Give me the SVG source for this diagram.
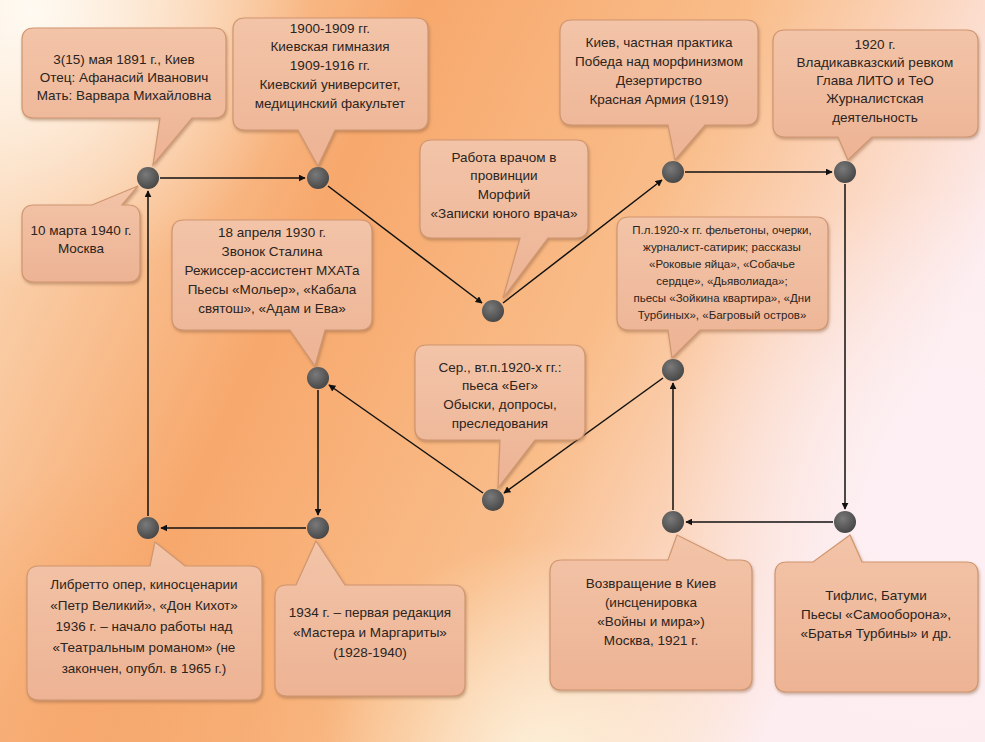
<svg xmlns="http://www.w3.org/2000/svg" width="985" height="742" viewBox="0 0 985 742">
<defs>
<linearGradient id="bg" x1="0" y1="0" x2="1" y2="0.35">
<stop offset="0" stop-color="#fbe0c4"/>
<stop offset="0.38" stop-color="#f7a86c"/>
<stop offset="0.68" stop-color="#f9bd8a"/>
<stop offset="1" stop-color="#fdedf0"/>
</linearGradient>
<radialGradient id="tl" cx="30" cy="10" r="280" gradientUnits="userSpaceOnUse">
<stop offset="0" stop-color="#fffaf2" stop-opacity="1"/>
<stop offset="1" stop-color="#fffaf2" stop-opacity="0"/>
</radialGradient>
<radialGradient id="rt" cx="940" cy="470" r="280" gradientUnits="userSpaceOnUse">
<stop offset="0" stop-color="#fdf0f4" stop-opacity="0.95"/>
<stop offset="1" stop-color="#fdf0f4" stop-opacity="0"/>
</radialGradient>
<radialGradient id="bm" cx="540" cy="760" r="220" gradientUnits="userSpaceOnUse">
<stop offset="0" stop-color="#fdf3dc" stop-opacity="0.9"/>
<stop offset="1" stop-color="#fdf3dc" stop-opacity="0"/>
</radialGradient>
<radialGradient id="bl" cx="120" cy="720" r="260" gradientUnits="userSpaceOnUse">
<stop offset="0" stop-color="#f6a96e" stop-opacity="0.8"/>
<stop offset="1" stop-color="#f6a96e" stop-opacity="0"/>
</radialGradient>
<linearGradient id="cf" x1="0" y1="0" x2="0" y2="1">
<stop offset="0" stop-color="#f3c4a8"/>
<stop offset="1" stop-color="#edb394"/>
</linearGradient>
<radialGradient id="dot" cx="0.4" cy="0.35" r="0.7">
<stop offset="0" stop-color="#7a7a7a"/>
<stop offset="1" stop-color="#444"/>
</radialGradient>
<filter id="sh" x="-10%" y="-10%" width="125%" height="130%">
<feDropShadow dx="1" dy="2" stdDeviation="1.5" flood-color="#8a5a3a" flood-opacity="0.45"/>
</filter>
<marker id="ar" viewBox="0 0 10 10" refX="9" refY="5" markerWidth="7" markerHeight="7" orient="auto" markerUnits="userSpaceOnUse">
<path d="M0,0 L10,5 L0,10 z" fill="#111"/>
</marker>
<style>
.co{fill:url(#cf);stroke:#cf9670;stroke-width:1.2;filter:url(#sh)}
.t{font-family:"Liberation Sans",Arial,sans-serif;font-size:13.5px;fill:#2b2420;text-anchor:middle}
.s{font-size:11.5px}
.d{fill:url(#dot)}
.c{stroke:#111;stroke-width:1.5;fill:none;marker-end:url(#ar)}
</style>
</defs>
<rect width="985" height="742" fill="url(#bg)"/>
<rect width="985" height="742" fill="url(#bl)"/>
<rect width="985" height="742" fill="url(#tl)"/>
<rect width="985" height="742" fill="url(#rt)"/>
<rect width="985" height="742" fill="url(#bm)"/>

<g id="connectors">
<line class="c" x1="160" y1="178" x2="305" y2="178"/>
<line class="c" x1="328" y1="186" x2="482" y2="303"/>
<line class="c" x1="503" y1="303" x2="662" y2="180"/>
<line class="c" x1="685" y1="172" x2="832" y2="172"/>
<line class="c" x1="845" y1="184" x2="845" y2="509"/>
<line class="c" x1="833" y1="522" x2="686" y2="522"/>
<line class="c" x1="673" y1="510" x2="673" y2="383"/>
<line class="c" x1="663" y1="378" x2="504" y2="493"/>
<line class="c" x1="483" y1="493" x2="329" y2="385"/>
<line class="c" x1="318" y1="390" x2="318" y2="515"/>
<line class="c" x1="306" y1="528" x2="161" y2="528"/>
<line class="c" x1="148" y1="516" x2="148" y2="191"/>
</g>

<g id="n1">
<path class="co" d="M34,28 H214 Q226,28 226,40 V106 Q226,118 214,118 H192 L153,165 L160,118 H34 Q22,118 22,106 V40 Q22,28 34,28 Z"/>
<text class="t" x="124" y="64">3(15) мая 1891 г., Киев</text>
<text class="t" x="124" y="82">Отец: Афанасий  Иванович</text>
<text class="t" x="124" y="100">Мать: Варвара Михайловна</text>
<circle class="d" cx="148" cy="178" r="11"/>
</g>
<g id="n2">
<path class="co" d="M245,18 H416 Q428,18 428,30 V118 Q428,130 416,130 H335 L318,166 L298,130 H245 Q233,130 233,118 V30 Q233,18 245,18 Z"/>
<text class="t" x="330" y="33">1900-1909 гг.</text>
<text class="t" x="330" y="51">Киевская гимназия</text>
<text class="t" x="330" y="70">1909-1916 гг.</text>
<text class="t" x="330" y="89">Киевский университет,</text>
<text class="t" x="330" y="108">медицинский факультет</text>
<circle class="d" cx="318" cy="178" r="11"/>
</g>
<g id="n3">
<path class="co" d="M432,140 H576 Q588,140 588,152 V226 Q588,238 576,238 H548 L503,298 L520,238 H432 Q420,238 420,226 V152 Q420,140 432,140 Z"/>
<text class="t" x="504" y="162">Работа врачом в</text>
<text class="t" x="504" y="180">провинции</text>
<text class="t" x="504" y="199">Морфий</text>
<text class="t" x="504" y="218">«Записки юного врача»</text>
<circle class="d" cx="493" cy="311" r="11"/>
</g>
<g id="n4">
<path class="co" d="M572,20 H746 Q758,20 758,32 V113 Q758,125 746,125 H705 L675,160 L668,125 H572 Q560,125 560,113 V32 Q560,20 572,20 Z"/>
<text class="t" x="659" y="47">Киев, частная практика</text>
<text class="t" x="659" y="66">Победа над морфинизмом</text>
<text class="t" x="659" y="85">Дезертирство</text>
<text class="t" x="659" y="104">Красная Армия (1919)</text>
<circle class="d" cx="673" cy="172" r="11"/>
</g>
<g id="n5">
<path class="co" d="M785,30 H966 Q978,30 978,42 V125 Q978,137 966,137 H872 L848,160 L838,137 H785 Q773,137 773,125 V42 Q773,30 785,30 Z"/>
<text class="t" x="875" y="49">1920 г.</text>
<text class="t" x="875" y="67">Владикавказский ревком</text>
<text class="t" x="875" y="85">Глава ЛИТО и ТеО</text>
<text class="t" x="875" y="103">Журналистская</text>
<text class="t" x="875" y="122">деятельность</text>
<circle class="d" cx="845" cy="172" r="11"/>
</g>
<g id="n6">
<path class="co" d="M34,205 H92 L138,186 L122,205 H128 Q140,205 140,217 V270 Q140,282 128,282 H34 Q22,282 22,270 V217 Q22,205 34,205 Z"/>
<text class="t" x="81" y="235">10 марта 1940 г.</text>
<text class="t" x="81" y="253">Москва</text>
</g>
<g id="n7">
<path class="co" d="M184,220 H360 Q372,220 372,232 V318 Q372,330 360,330 H325 L315,366 L290,330 H184 Q172,330 172,318 V232 Q172,220 184,220 Z"/>
<text class="t" x="272" y="237">18 апреля 1930 г.</text>
<text class="t" x="272" y="256">Звонок Сталина</text>
<text class="t" x="272" y="275">Режиссер-ассистент МХАТа</text>
<text class="t" x="272" y="294">Пьесы «Мольер», «Кабала</text>
<text class="t" x="272" y="313">святош», «Адам и Ева»</text>
<circle class="d" cx="318" cy="378" r="11"/>
</g>
<g id="n8">
<path class="co" d="M629,217 H816 Q828,217 828,229 V318 Q828,330 816,330 H700 L672,358 L668,330 H629 Q617,330 617,318 V229 Q617,217 629,217 Z"/>
<text class="t s" x="722" y="234">П.л.1920-х гг. фельетоны, очерки,</text>
<text class="t s" x="722" y="251">журналист-сатирик; рассказы</text>
<text class="t s" x="722" y="268">«Роковые яйца», «Собачье</text>
<text class="t s" x="722" y="285">сердце», «Дьяволиада»;</text>
<text class="t s" x="722" y="302">пьесы «Зойкина  квартира», «Дни</text>
<text class="t s" x="722" y="319">Турбиных», «Багровый остров»</text>
<circle class="d" cx="673" cy="370" r="11"/>
</g>
<g id="n9">
<path class="co" d="M427,345 H573 Q585,345 585,357 V428 Q585,440 573,440 H535 L498,488 L500,440 H427 Q415,440 415,428 V357 Q415,345 427,345 Z"/>
<text class="t" x="500" y="372">Сер., вт.п.1920-х гг.:</text>
<text class="t" x="500" y="390">пьеса «Бег»</text>
<text class="t" x="500" y="409">Обыски, допросы,</text>
<text class="t" x="500" y="428">преследования</text>
<circle class="d" cx="493" cy="500" r="11"/>
</g>
<g id="n10">
<path class="co" d="M39,566 H150 L155,542 L185,566 H250 Q262,566 262,578 V688 Q262,700 250,700 H39 Q27,700 27,688 V578 Q27,566 39,566 Z"/>
<text class="t" x="144" y="589">Либретто опер, киносценарии</text>
<text class="t" x="144" y="610">«Петр Великий», «Дон Кихот»</text>
<text class="t" x="144" y="631">1936 г. – начало работы над</text>
<text class="t" x="144" y="652">«Театральным романом» (не</text>
<text class="t" x="144" y="673">закончен, опубл. в 1965 г.)</text>
<circle class="d" cx="148" cy="528" r="11"/>
</g>
<g id="n11">
<path class="co" d="M287,585 H296 L316,541 L345,585 H453 Q465,585 465,597 V684 Q465,696 453,696 H287 Q275,696 275,684 V597 Q275,585 287,585 Z"/>
<text class="t" x="370" y="617">1934 г. – первая редакция</text>
<text class="t" x="370" y="637">«Мастера и Маргариты»</text>
<text class="t" x="370" y="657">(1928-1940)</text>
<circle class="d" cx="318" cy="528" r="11"/>
</g>
<g id="n12">
<path class="co" d="M562,560 H668 L677,535 L727,560 H740 Q752,560 752,572 V678 Q752,690 740,690 H562 Q550,690 550,678 V572 Q550,560 562,560 Z"/>
<text class="t" x="651" y="588">Возвращение в Киев</text>
<text class="t" x="651" y="607">(инсценировка</text>
<text class="t" x="651" y="626">«Войны и мира»)</text>
<text class="t" x="651" y="645">Москва, 1921 г.</text>
<circle class="d" cx="673" cy="522" r="11"/>
</g>
<g id="n13">
<path class="co" d="M787,562 H813 L850,535 L862,562 H966 Q978,562 978,574 V680 Q978,692 966,692 H787 Q775,692 775,680 V574 Q775,562 787,562 Z"/>
<text class="t" x="876" y="600">Тифлис, Батуми</text>
<text class="t" x="876" y="619">Пьесы «Самооборона»,</text>
<text class="t" x="876" y="638">«Братья Турбины» и др.</text>
<circle class="d" cx="845" cy="522" r="11"/>
</g>
</svg>
